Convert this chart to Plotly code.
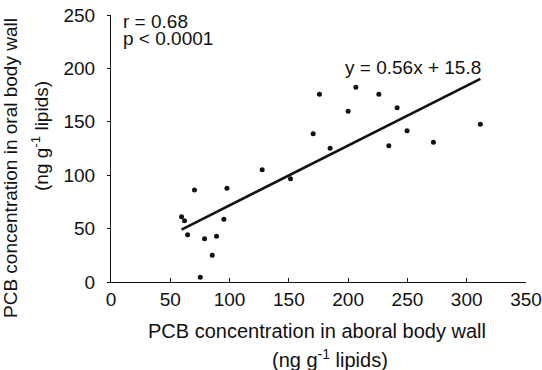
import plotly.graph_objects as go

# Data
aboral = [59.5, 62.0, 64.6, 70.4, 75.3, 78.9, 85.4, 89.0, 95.2, 97.8,
          127.5, 151.4, 170.5, 175.8, 184.8, 200.0, 206.5, 225.9, 234.3,
          241.3, 249.7, 271.9, 311.5]
oral = [61.1, 57.4, 44.3, 86.1, 4.4, 40.5, 25.0, 42.8, 58.7, 87.7,
        105.1, 96.7, 138.9, 175.7, 125.2, 159.8, 182.3, 175.7, 127.6,
        163.2, 141.7, 130.8, 147.7]
slope, intercept = 0.56, 15.8
x_ticks = [0, 50, 100, 150, 200, 250, 300, 350]
y_ticks = [0, 50, 100, 150, 200, 250]

FONT = "Liberation Sans, Arial, Helvetica, sans-serif"
fit_x = [min(aboral), max(aboral)]
fit_y = [slope * v + intercept for v in fit_x]

fig = go.Figure()
fig.add_trace(go.Scatter(x=aboral, y=oral, mode="markers",
                         marker=dict(color="#111111", size=5), showlegend=False))
fig.add_trace(go.Scatter(x=fit_x, y=fit_y, mode="lines",
                         line=dict(color="#111111", width=2.6), showlegend=False))

L, R, T, B = 111, 16, 15, 88
W, H = 542, 370
pw, ph = W - L - R, H - T - B

def px(xp):
    return (xp - L) / pw

def py(yp):
    return 1 - (yp - T) / ph

ann = []
def add(text, xp, yp, angle=0, xanchor="center", size=20):
    ann.append(dict(text=text, x=px(xp), y=py(yp), xref="paper", yref="paper",
                    showarrow=False, textangle=angle, xanchor=xanchor, yanchor="middle",
                    font=dict(family=FONT, size=size, color="#111111")))

add("PCB concentration in aboral body wall", 317, 331)
add("(ng g<sup>-1</sup> lipids)", 330, 358)
add("PCB concentration in oral body wall", 10, 168, angle=-90, size=19)
add("(ng g<sup>-1</sup> lipids)", 40, 136, angle=-90, size=19)
add("r = 0.68", 121, 22, xanchor="left", size=19)
add("p < 0.0001", 121, 38, xanchor="left", size=19)
add("y = 0.56x + 15.8", 483, 67, xanchor="right", size=19)

fig.update_layout(
    width=W, height=H,
    margin=dict(l=L, r=R, t=T, b=B),
    paper_bgcolor="white", plot_bgcolor="white",
    font=dict(family=FONT, size=19, color="#111111"),
    annotations=ann,
    xaxis=dict(range=[0, 350], tickvals=x_ticks, showgrid=False, zeroline=False,
               automargin=False,
               showline=True, linecolor="#111111", linewidth=1.2,
               ticks="inside", ticklen=4, tickcolor="#111111",
               tickfont=dict(family=FONT, size=19, color="#111111")),
    yaxis=dict(range=[0, 250], tickvals=y_ticks, showgrid=False, zeroline=False,
               automargin=False, ticklabelstandoff=8,
               showline=True, linecolor="#111111", linewidth=1.2,
               ticks="outside", ticklen=3, tickcolor="#111111",
               tickfont=dict(family=FONT, size=19, color="#111111")),
)
fig.write_html("out.html")
